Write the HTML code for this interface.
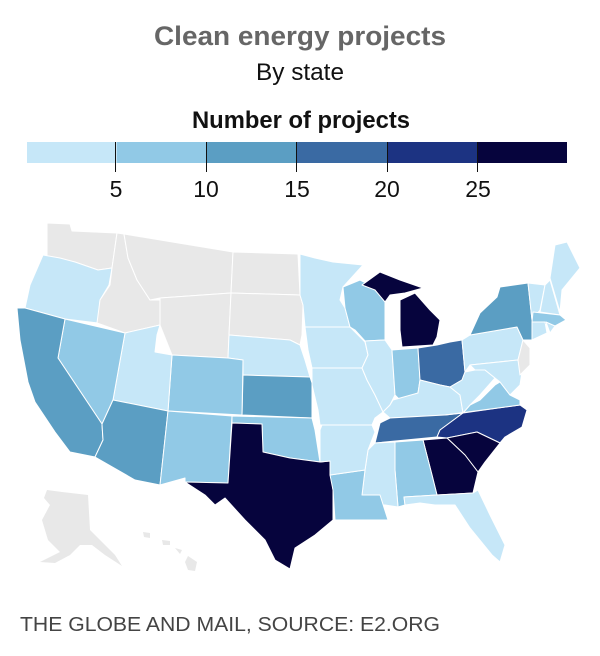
<!DOCTYPE html>
<html><head><meta charset="utf-8"><style>
html,body{margin:0;padding:0;background:#fff;}
svg{display:block;}
text{font-family:"Liberation Sans",sans-serif;}
.s{stroke:#fff;stroke-width:1;stroke-linejoin:round;}
.g{fill:#e8e8e8}.a{fill:#c6e7f8}.b{fill:#91c9e6}.c{fill:#5b9ec3}.d{fill:#3a6aa3}.e{fill:#1c3382}.f{fill:#06043d}
</style></head><body>
<svg width="600" height="656" viewBox="0 0 600 656" xmlns="http://www.w3.org/2000/svg">
<text x="300" y="45" text-anchor="middle" font-size="27" font-weight="bold" fill="#666" textLength="292" lengthAdjust="spacingAndGlyphs">Clean energy projects</text>
<text x="300" y="80" text-anchor="middle" font-size="24" fill="#111" textLength="88" lengthAdjust="spacingAndGlyphs">By state</text>
<text x="301" y="128" text-anchor="middle" font-size="24" font-weight="bold" fill="#111" textLength="218" lengthAdjust="spacingAndGlyphs">Number of projects</text>
<rect x="27" y="142" width="90" height="21" class="a"/>
<rect x="117" y="142" width="90" height="21" class="b"/>
<rect x="207" y="142" width="90" height="21" class="c"/>
<rect x="297" y="142" width="90" height="21" class="d"/>
<rect x="387" y="142" width="90" height="21" class="e"/>
<rect x="477" y="142" width="90" height="21" class="f"/>
<g stroke="#111" stroke-width="1">
<line x1="115.5" y1="142" x2="115.5" y2="172"/><line x1="206.5" y1="142" x2="206.5" y2="172"/><line x1="296.5" y1="142" x2="296.5" y2="172"/><line x1="387.5" y1="142" x2="387.5" y2="172"/><line x1="477.5" y1="142" x2="477.5" y2="172"/>
</g>
<g font-size="23" fill="#111" text-anchor="middle">
<text x="116" y="197">5</text><text x="206" y="197">10</text><text x="297" y="197">15</text><text x="387" y="197">20</text><text x="478" y="197">25</text>
</g>
<g class="s">
<polygon class="g" points="47,223 70,224 72,231 117,233 112,268 98,270 75,262 47,258"/>
<polygon class="a" points="43,255 60,258 75,262 98,270 112,268 109,285 100,300 98,323 65,319 25,308 30,285"/>
<polygon class="g" points="117,233 124,234 128,258 137,280 150,300 160,300 160,325 125,333 97,323 100,300 110,285 112,268"/>
<polygon class="g" points="124,234 233,252 231,293 160,298 150,300 137,280 128,258"/>
<polygon class="g" points="160,298 231,293 229,335 228,358 172,355 160,325"/>
<polygon class="g" points="233,252 298,254 300,295 231,293"/>
<polygon class="g" points="231,293 300,295 303,305 302,335 300,345 290,340 229,335"/>
<polygon class="a" points="229,335 290,340 300,345 305,360 310,377 243,375 243,360 228,358"/>
<polygon class="c" points="243,375 310,377 312,383 312,418 242,415"/>
<polygon class="b" points="172,355 228,358 243,360 242,415 168,411"/>
<polygon class="a" points="125,333 160,325 157,335 155,352 172,355 168,411 113,400"/>
<polygon class="b" points="65,319 125,333 113,400 102,424 58,358"/>
<polygon class="c" points="17,308 25,308 65,319 58,358 102,424 103,440 95,457 70,452 55,432 35,402 28,382 20,340"/>
<polygon class="c" points="113,400 168,411 160,485 135,480 95,457 103,440 102,424"/>
<polygon class="b" points="168,411 232,416 228,483 185,482 185,478 160,485"/>
<polygon class="b" points="232,416 312,418 315,430 320,462 290,458 263,452 262,424 232,423"/>
<polygon class="f" points="232,423 262,424 263,452 290,458 320,462 330,461 333,490 333,520 315,535 295,548 290,569 275,560 265,540 245,520 225,498 215,505 205,495 185,482 228,483"/>
<polygon class="a" points="300,254 315,258 333,262 363,265 343,287 340,300 345,308 350,327 305,327 303,305 300,295"/>
<polygon class="b" points="343,287 360,280 380,290 385,302 385,340 365,341 355,330 350,327 345,308"/>
<polygon class="f" points="362,285 380,272 400,280 423,288 405,293 390,295 385,302 375,290"/>
<polygon class="f" points="400,300 415,293 430,310 440,320 437,337 433,345 402,347 400,330"/>
<polygon class="a" points="305,327 350,327 358,335 365,342 368,355 362,368 312,368 308,350"/>
<polygon class="a" points="312,368 362,368 367,380 375,395 383,412 375,418 372,425 320,425 318,410 312,385"/>
<polygon class="a" points="365,341 385,340 392,350 395,395 390,405 383,412 375,395 367,380 362,368 368,355"/>
<polygon class="b" points="392,350 418,348 420,380 418,393 400,400 395,395"/>
<polygon class="d" points="418,348 437,345 450,342 462,340 465,372 462,380 450,387 440,385 420,380"/>
<polygon class="a" points="393,400 418,393 420,380 440,385 450,387 460,395 463,413 445,415 390,418 383,412 390,405"/>
<polygon class="d" points="375,443 380,423 390,418 445,415 463,413 440,430 437,437"/>
<polygon class="e" points="437,437 440,430 463,413 520,405 527,410 522,427 505,437 500,443 477,432 447,438"/>
<polygon class="f" points="447,438 477,432 500,443 485,462 478,472 465,455"/>
<polygon class="f" points="423,440 447,438 465,455 478,472 473,493 437,495 432,475"/>
<polygon class="b" points="395,442 423,440 432,475 437,495 404,497 405,505 398,507 395,470"/>
<polygon class="a" points="375,443 395,442 395,470 398,507 385,505 360,505 362,495 365,470 368,450"/>
<polygon class="b" points="330,475 365,470 362,495 380,495 388,520 375,520 355,520 335,520 333,490"/>
<polygon class="a" points="322,425 372,425 375,432 368,450 365,470 330,475 330,461 320,462 320,430"/>
<polygon class="a" points="404,497 437,495 473,493 478,490 490,515 505,545 500,562 492,555 470,528 455,505 435,505 420,503 405,505"/>
<polygon class="b" points="445,415 463,413 470,405 480,400 495,385 500,382 510,395 520,400 520,405"/>
<polygon class="a" points="450,387 462,380 465,372 475,370 485,370 495,378 480,395 470,405 463,413 460,395"/>
<polygon class="a" points="462,340 470,335 517,327 523,340 518,360 470,365 465,372"/>
<polygon class="a" points="470,365 518,360 522,372 520,385 510,395 500,382 495,378 485,370 475,370"/>
<polygon class="c" points="470,335 480,313 497,297 500,287 528,283 532,320 545,333 532,340 523,340 517,327"/>
<polygon class="g" points="523,340 530,348 530,365 520,375 518,360"/>
<polygon class="a" points="528,283 545,285 540,310 532,320"/>
<polygon class="a" points="545,285 550,280 560,315 540,312"/>
<polygon class="a" points="550,278 555,245 567,242 580,268 562,290 560,312"/>
<polygon class="b" points="533,312 560,315 566,320 555,326 532,322"/>
<polygon class="a" points="532,322 545,322 547,333 532,340"/>
<polygon class="a" points="546,322 555,326 550,333"/>
</g>
<g class="g">
<polygon points="47,490 62,492 88,495 90,530 100,540 115,555 122,566 105,555 92,545 80,545 70,555 55,563 40,562 60,552 48,540 42,520 50,505 44,498"/>
<polygon points="143,532 150,533 150,538 144,537"/>
<polygon points="162,540 170,541 170,545 163,545"/>
<polygon points="175,548 182,550 180,554"/>
<polygon points="188,556 197,562 195,571 188,570 185,562"/>
</g>
<text x="20" y="631" font-size="20" fill="#444" textLength="420" lengthAdjust="spacingAndGlyphs">THE GLOBE AND MAIL, SOURCE: E2.ORG</text>
</svg>
</body></html>
